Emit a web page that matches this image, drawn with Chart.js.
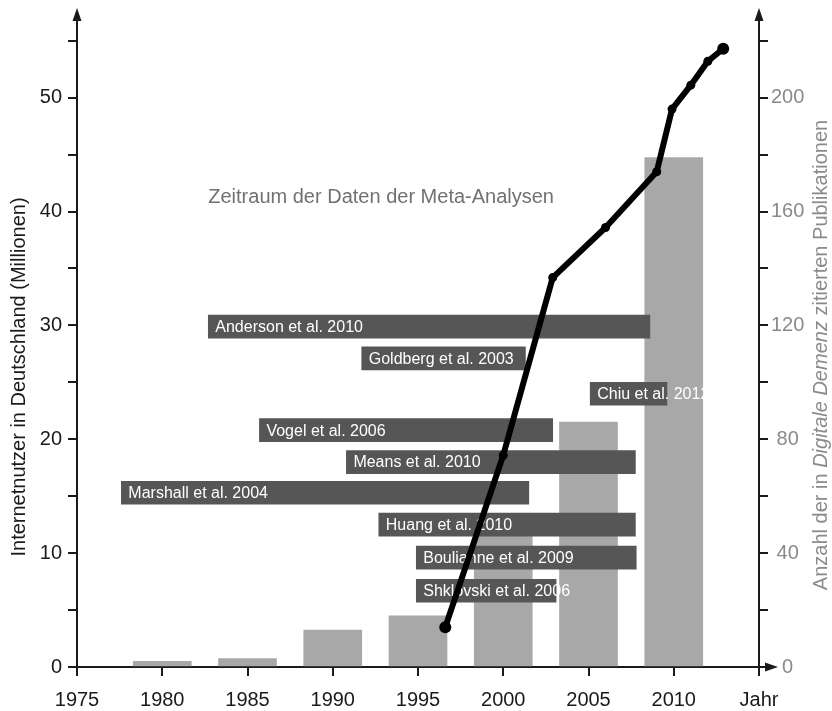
<!DOCTYPE html>
<html><head><meta charset="utf-8">
<script src="https://cdn.jsdelivr.net/npm/chart.js@4.4.1/dist/chart.umd.min.js"></script>
<style>html,body{margin:0;padding:0;background:#fff}#wrap{width:832px;height:711px;position:relative}</style>
</head><body><div id="wrap"><canvas id="c" width="832" height="711"></canvas></div>
<script>
// ---- data ----
const barYears = [1980, 1985, 1990, 1995, 2000, 2005, 2010];
const publications = [2, 3, 13, 18, 48, 86, 179];

const userYears = [1996.6, 2000, 2002.9, 2006, 2009, 2009.9, 2011, 2012, 2012.9];
const usersMillions = [3.5, 18.6, 34.2, 38.6, 43.5, 49.0, 51.1, 53.2, 54.3];

const studyLabels = ['Anderson et al. 2010', 'Goldberg et al. 2003', 'Chiu et al. 2012', 'Vogel et al. 2006',
  'Means et al. 2010', 'Marshall et al. 2004', 'Huang et al. 2010', 'Boulianne et al. 2009', 'Shklovski et al. 2006'];
const studyStart = [1982.7, 1991.7, 2005.1, 1985.7, 1990.8, 1977.6, 1992.7, 1994.9, 1994.9];
const studyEnd   = [2008.6, 2001.3, 2009.6, 2002.9, 2007.75, 2001.5, 2007.75, 2007.8, 2003.1];
const studyRow   = [29.9, 27.1, 24.0, 20.8, 18.0, 15.3, 12.5, 9.6, 6.7];

const xTickValues = [1975, 1980, 1985, 1990, 1995, 2000, 2005, 2010, 2015];
const xTickLabels = ['1975', '1980', '1985', '1990', '1995', '2000', '2005', '2010', 'Jahr'];
const leftTickLabels = ['0', '10', '20', '30', '40', '50'];
const rightTickLabels = ['0', '40', '80', '120', '160', '200'];

const leftTitle = 'Internetnutzer in Deutschland (Millionen)';
const rightTitleParts = ['Anzahl der in ', 'Digitale Demenz', ' zitierten Publikationen'];
const annotationText = 'Zeitraum der Daten der Meta-Analysen';
const annotationPos = {x: 1982.7, y: 41.2};

// ---- styling ----
const FAM = "'Liberation Sans', Arial, Helvetica, sans-serif";
const AX = '#1a1a1a';
const GRAY_TXT = '#8a8a8a';
Chart.defaults.font.family = FAM;

const overlay = {
  id: 'overlay',
  afterDatasetDraw(chart, args) {
    if (args.index !== 1) return;
    const ctx = chart.ctx;
    ctx.save();
    ctx.font = '16px ' + FAM;
    ctx.fillStyle = '#ffffff';
    ctx.textBaseline = 'middle';
    ctx.textAlign = 'left';
    args.meta.data.forEach((el, i) => {
      const left = Math.min(el.base, el.x);
      ctx.fillText(studyLabels[i], left + 7, el.y + 1);
    });
    ctx.restore();
  },
  afterDraw(chart) {
    const ctx = chart.ctx;
    const a = chart.chartArea;
    ctx.save();
    ctx.fillStyle = AX;
    ctx.strokeStyle = AX;
    ctx.lineWidth = 2;
    [a.left, a.right].forEach(x => {
      ctx.beginPath();
      ctx.moveTo(x, a.top - 10);
      ctx.lineTo(x - 4.5, a.top + 3);
      ctx.lineTo(x + 4.5, a.top + 3);
      ctx.closePath();
      ctx.fill();
    });
    ctx.beginPath();
    ctx.moveTo(a.right, a.bottom);
    ctx.lineTo(a.right + 8, a.bottom);
    ctx.stroke();
    ctx.beginPath();
    ctx.moveTo(a.right + 19, a.bottom);
    ctx.lineTo(a.right + 6, a.bottom - 4.5);
    ctx.lineTo(a.right + 6, a.bottom + 4.5);
    ctx.closePath();
    ctx.fill();

    ctx.font = '20px ' + FAM;
    ctx.textBaseline = 'middle';
    ctx.textAlign = 'center';
    ctx.save();
    ctx.translate(19, 377);
    ctx.rotate(-Math.PI / 2);
    ctx.fillStyle = AX;
    ctx.fillText(leftTitle, 0, 0);
    ctx.restore();

    ctx.save();
    ctx.translate(821, 355);
    ctx.rotate(-Math.PI / 2);
    ctx.fillStyle = GRAY_TXT;
    ctx.textAlign = 'left';
    const fonts = ['20px ' + FAM, 'italic 20px ' + FAM, '20px ' + FAM];
    let total = 0;
    const widths = rightTitleParts.map((t, i) => { ctx.font = fonts[i]; const w = ctx.measureText(t).width; total += w; return w; });
    let cx = -total / 2;
    rightTitleParts.forEach((t, i) => { ctx.font = fonts[i]; ctx.fillText(t, cx, 0); cx += widths[i]; });
    ctx.restore();

    ctx.font = '20px ' + FAM;
    ctx.fillStyle = '#717171';
    ctx.textAlign = 'left';
    ctx.textBaseline = 'middle';
    ctx.fillText(annotationText, chart.scales.x.getPixelForValue(annotationPos.x), chart.scales.y.getPixelForValue(annotationPos.y));
    ctx.restore();
  }
};

const tickFont = {size: 20, family: FAM};

new Chart(document.getElementById('c'), {
  type: 'bar',
  data: {
    datasets: [
      {
        type: 'line',
        order: 0,
        xAxisID: 'x', yAxisID: 'y',
        data: userYears.map((x, i) => ({x, y: usersMillions[i]})),
        borderColor: '#000', backgroundColor: '#000',
        borderWidth: 6, tension: 0,
        borderJoinStyle: 'round', borderCapStyle: 'round',
        pointRadius: (c) => (c.dataIndex === 0 || c.dataIndex === userYears.length - 1) ? 6 : 4.5,
        pointBorderWidth: 0, pointBackgroundColor: '#000'
      },
      {
        type: 'bar',
        order: 1,
        indexAxis: 'y',
        xAxisID: 'xH', yAxisID: 'yH',
        data: studyRow.map((y, i) => ({y, x: [studyStart[i], studyEnd[i]]})),
        backgroundColor: '#565656',
        grouped: false,
        barPercentage: 1, categoryPercentage: 1, maxBarThickness: 23
      },
      {
        type: 'bar',
        order: 2,
        xAxisID: 'x', yAxisID: 'yR',
        data: barYears.map((x, i) => ({x, y: publications[i]})),
        backgroundColor: '#a8a8a8',
        grouped: false,
        barPercentage: 1, categoryPercentage: 1, maxBarThickness: 58
      }
    ]
  },
  options: {
    responsive: false,
    animation: false,
    layout: {padding: {top: 18, left: 0, right: 0, bottom: 0}},
    plugins: {legend: {display: false}, tooltip: {enabled: false}},
    scales: {
      x: {
        type: 'linear', axis: 'x', position: 'bottom', min: 1975, max: 2015, offset: false,
        afterFit(s) { s.height = 44; },
        grid: {offset: false, drawOnChartArea: false, drawTicks: true, tickLength: 9, color: AX, lineWidth: 2},
        border: {display: true, color: AX, width: 2},
        ticks: {
          stepSize: 5, autoSkip: false, maxRotation: 0, padding: 12, color: AX, font: tickFont,
          callback: (v) => { const k = xTickValues.indexOf(v); return k >= 0 ? xTickLabels[k] : ''; }
        }
      },
      y: {
        type: 'linear', axis: 'y', position: 'left', min: 0, max: 57, offset: false,
        afterFit(s) { s.width = 77; },
        grid: {offset: false, drawOnChartArea: false, drawTicks: true, tickLength: 9, color: AX, lineWidth: 2},
        border: {display: true, color: AX, width: 2},
        ticks: {
          stepSize: 5, includeBounds: false, padding: 6, color: AX, font: tickFont,
          callback: (v) => { const k = leftTickLabels.indexOf(String(v)); return k >= 0 ? leftTickLabels[k] : ''; }
        }
      },
      yR: {
        type: 'linear', axis: 'y', position: 'right', min: 0, max: 228, offset: false,
        afterFit(s) { s.width = 73; },
        grid: {offset: false, drawOnChartArea: false, drawTicks: true, tickLength: 9, color: AX, lineWidth: 2},
        border: {display: true, color: AX, width: 2},
        ticks: {
          stepSize: 20, includeBounds: false, padding: 3, crossAlign: 'center', color: GRAY_TXT, font: tickFont,
          callback: (v) => { const k = rightTickLabels.indexOf(String(v)); return k >= 0 ? rightTickLabels[k] : ''; }
        }
      },
      xH: {type: 'linear', axis: 'x', position: 'bottom', display: false, min: 1975, max: 2015, offset: false},
      yH: {type: 'linear', axis: 'y', position: 'left', display: false, min: 0, max: 57, offset: false}
    }
  },
  plugins: [overlay]
});
</script>
</body></html>
